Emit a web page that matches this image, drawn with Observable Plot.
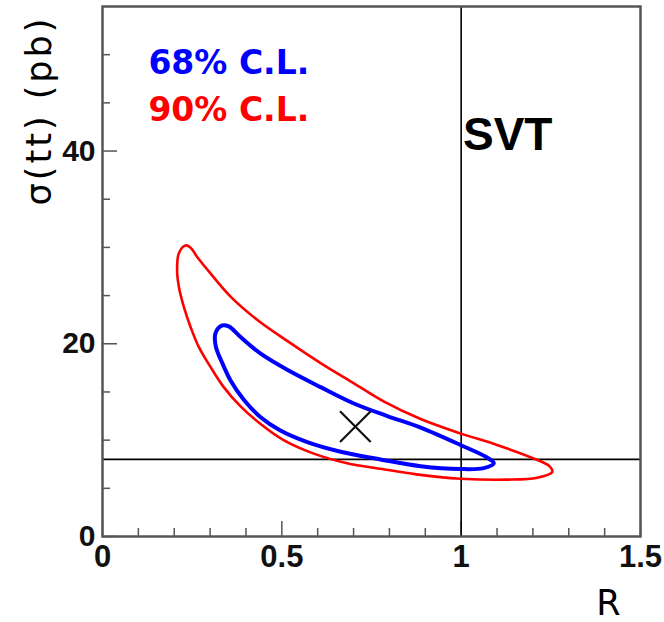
<!DOCTYPE html>
<html>
<head>
<meta charset="utf-8">
<script src="https://cdn.jsdelivr.net/npm/d3@7"></script>
<script src="https://cdn.jsdelivr.net/npm/@observablehq/plot@0.6"></script>
<style>
  html, body { margin: 0; padding: 0; background: #fff; }
  #chart { width: 664px; height: 622px; }
</style>
</head>
<body>
<div id="chart"></div>
<script>
// ---- data ----
// 90% C.L. contour (R, sigma) going round the closed loop
const cl90R     = [0.231,0.213,0.208,0.213,0.227,0.245,0.268,0.301,0.338,0.385,0.440,0.505,0.589,0.682,0.780,0.875,0.998,1.128,1.212,1.254,1.246,1.202,1.100,0.998,0.887,0.785,0.701,0.608,0.515,0.431,0.357,0.301,0.264,0.245];
const cl90Sigma = [30.2, 29.4, 27.6, 25.9, 23.8, 21.8, 19.7, 17.6, 15.5, 13.5, 11.7, 10.0, 8.6,  7.6,  7.0,  6.45, 6.0,  5.9,  6.1,  6.7,  7.3,  8.1,  9.5,  10.7, 12.2, 14.0, 15.9, 18.0, 20.3, 22.5, 24.9, 27.3, 29.0, 30.0];
// 68% C.L. contour
const cl68R     = [0.334,0.315,0.316,0.334,0.357,0.394,0.440,0.496,0.571,0.664,0.775,0.887,0.998,1.063,1.091,1.072,0.998,0.887,0.794,0.701,0.608,0.515,0.440,0.385,0.352];
const cl68Sigma = [21.9, 21.1, 19.7, 18.0, 16.2, 14.2, 12.4, 11.0, 9.8,  8.8,  8.0,  7.3,  7.0,  7.1,  7.6,  8.2,  9.5,  11.3, 12.5, 13.8, 15.5, 17.3, 19.0, 20.7, 21.8];
// best fit point
const bestR = [0.705];
const bestSigma = [11.4];
// SVT lines
const svtR = [1];
const svtSigma = [8];
// axis ticks
const xTickLabels = [0, 0.5, 1, 1.5];
const xMinorTicks = [0.1,0.2,0.3,0.4,0.6,0.7,0.8,0.9,1.1,1.2,1.3,1.4];
const yTickLabels = [0, 20, 40];
const yMinorTicks = [5,10,15,25,30,35,45,50];
const legendLabels = ["68% C.L.", "90% C.L."];
const svtLabel = ["SVT"];
const xTitle = ["R"];
const yTitle = ["σ(tt) (pb)"];

// ---- tables built from the arrays ----
const cl90 = cl90R.map((R, i) => ({R, sigma: cl90Sigma[i]}));
const cl68 = cl68R.map((R, i) => ({R, sigma: cl68Sigma[i]}));
const best = bestR.map((R, i) => ({R, sigma: bestSigma[i]}));

const W = 664, H = 622;
const mL = 102, mR = 24, mT = 6, mB = 86;
const innerW = W - mL - mR, innerH = H - mT - mB;
const axisColor = "#555";
const tickFont = "Liberation Sans, Arial, sans-serif";

const plot = Plot.plot({
  width: W, height: H,
  marginLeft: mL, marginRight: mR, marginTop: mT, marginBottom: mB,
  x: {domain: [0, 1.5], axis: null},
  y: {domain: [0, 55], axis: null},
  style: {background: "white", overflow: "visible"},
  marks: [
    // bottom ticks (inward)
    Plot.ruleX(xMinorTicks, {x: d => d, y1: 55, y2: 0, insetTop: innerH - 8, stroke: axisColor, strokeWidth: 1.5}),
    Plot.ruleX(xTickLabels, {x: d => d, y1: 55, y2: 0, insetTop: innerH - 15, stroke: axisColor, strokeWidth: 1.5}),
    // left ticks (inward)
    Plot.ruleY(yMinorTicks, {y: d => d, x1: 0, x2: 1.5, insetRight: innerW - 8, stroke: axisColor, strokeWidth: 1.5}),
    Plot.ruleY(yTickLabels, {y: d => d, x1: 0, x2: 1.5, insetRight: innerW - 15, stroke: axisColor, strokeWidth: 1.5}),
    // SVT lines
    Plot.ruleX(svtR, {x: d => d, stroke: "black", strokeWidth: 1.6}),
    Plot.ruleY(svtSigma, {y: d => d, stroke: "black", strokeWidth: 1.6}),
    // contours
    Plot.line(cl90, {x: "R", y: "sigma", curve: "catmull-rom-closed", stroke: "#ff0000", strokeWidth: 2.6}),
    Plot.line(cl68, {x: "R", y: "sigma", curve: "catmull-rom-closed", stroke: "#0000ff", strokeWidth: 4}),
    // best fit
    Plot.dot(best, {x: "R", y: "sigma", symbol: "times", r: 14, stroke: "#111", strokeWidth: 2.2}),
    // frame
    Plot.frame({stroke: axisColor, strokeWidth: 2.5}),
    // tick labels
    Plot.text(xTickLabels, {x: d => d, frameAnchor: "bottom", textAnchor: "middle", lineAnchor: "top", dy: 8, text: d => String(d),
      fontSize: 31, fontWeight: "bold", fontFamily: tickFont, fill: "#111"}),
    Plot.text(yTickLabels, {y: d => d, frameAnchor: "left", textAnchor: "end", dx: -7, text: d => String(d),
      fontSize: 30, fontWeight: "bold", fontFamily: tickFont, fill: "#111"}),
    // legend labels
    Plot.text([legendLabels[0]], {x: 0.128, y: 49.1, textAnchor: "start", fill: "#0000ff",
      fontSize: 33, fontWeight: "bold", fontFamily: "DejaVu Sans, sans-serif"}),
    Plot.text([legendLabels[1]], {x: 0.128, y: 44.2, textAnchor: "start", fill: "#ff0000",
      fontSize: 33, fontWeight: "bold", fontFamily: "DejaVu Sans, sans-serif"}),
    Plot.text(svtLabel, {x: 1.005, y: 41.6, textAnchor: "start", fill: "#000",
      fontSize: 46, fontWeight: "bold", fontFamily: tickFont}),
    // axis titles
    Plot.text(xTitle, {frameAnchor: "bottom-right", textAnchor: "middle", lineAnchor: "middle", dx: -32, dy: 67, fontSize: 35,
      fontFamily: "DejaVu Sans, sans-serif", fill: "#000"}),
    Plot.text(yTitle, {frameAnchor: "top-left", textAnchor: "middle", lineAnchor: "middle", dx: -63, dy: 104, rotate: -90, fontSize: 35,
      fontFamily: "DejaVu Sans, sans-serif", fill: "#000"})
  ]
});
d3.select(plot).selectAll("text")
  .filter(function() { return this.textContent === yTitle[0]; })
  .style("letter-spacing", "3px");
document.getElementById("chart").appendChild(plot);
</script>
</body>
</html>
